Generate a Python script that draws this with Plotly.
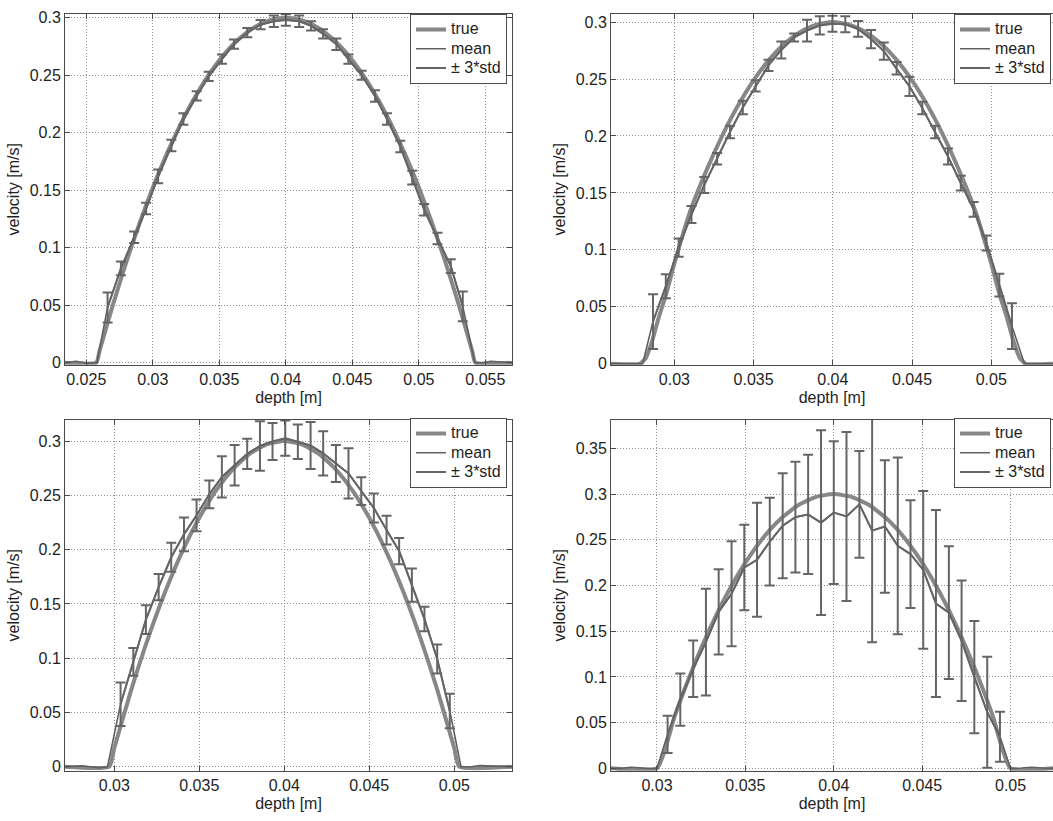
import plotly.graph_objects as go
from plotly.subplots import make_subplots

# ---- panel 1 (top left) ----
true1_x = [0.0234, 0.02575, 0.026, 0.027, 0.028, 0.029, 0.030, 0.031, 0.032, 0.033, 0.034, 0.035, 0.036,
           0.037, 0.038, 0.039, 0.040, 0.041, 0.042, 0.043, 0.044, 0.045, 0.046, 0.047, 0.048, 0.049,
           0.050, 0.051, 0.052, 0.053, 0.054, 0.05425, 0.0570]
true1_y = [0, 0, 0.0104, 0.0503, 0.0873, 0.1212, 0.1523, 0.1803, 0.2054, 0.2276, 0.2468, 0.2631, 0.2764,
           0.2867, 0.2941, 0.2985, 0.3000, 0.2985, 0.2941, 0.2867, 0.2764, 0.2631, 0.2468, 0.2276, 0.2054,
           0.1803, 0.1523, 0.1212, 0.0873, 0.0503, 0.0104, 0, 0]
bar1_x = [0.0266, 0.0276, 0.0286, 0.0295, 0.0304, 0.0314, 0.0323, 0.0333, 0.0342, 0.0352, 0.0361, 0.0371,
          0.0381, 0.0391, 0.0400, 0.0410, 0.0419, 0.0428, 0.0438, 0.0447, 0.0457, 0.0467, 0.0476, 0.0486,
          0.0495, 0.0504, 0.0514, 0.0524, 0.0533]
bar1_mean = [0.048, 0.082, 0.109, 0.134, 0.162, 0.189, 0.212, 0.232, 0.249, 0.264, 0.277, 0.287, 0.294,
             0.297, 0.298, 0.297, 0.293, 0.286, 0.277, 0.264, 0.250, 0.232, 0.212, 0.188, 0.161, 0.133,
             0.108, 0.084, 0.049]
bar1_err = [0.013, 0.006, 0.005, 0.005, 0.006, 0.005, 0.005, 0.004, 0.004, 0.004, 0.004, 0.004, 0.004,
            0.005, 0.005, 0.005, 0.004, 0.004, 0.005, 0.004, 0.004, 0.005, 0.005, 0.005, 0.006, 0.005,
            0.005, 0.006, 0.013]
out1_left_x = [0.0234, 0.0238, 0.0242, 0.0246, 0.0250, 0.0254, 0.0258]
out1_left_y = [0.0, 0.0008, 0.0012, 0.0006, -0.0004, 0.0, 0.0]
out1_right_x = [0.0542, 0.0548, 0.0554, 0.0560, 0.0566, 0.0570]
out1_right_y = [0.0, 0.0, 0.0012, 0.0008, 0.0, 0.0]

# ---- panel 2 (top right) ----
true2_x = [0.0260, 0.0278, 0.0282, 0.0286, 0.0290, 0.0295, 0.030, 0.031, 0.032, 0.033, 0.034, 0.035,
           0.036, 0.037, 0.038, 0.039, 0.040, 0.041, 0.042, 0.043, 0.044, 0.045, 0.046, 0.047, 0.048,
           0.049, 0.050, 0.0505, 0.0510, 0.0514, 0.0518, 0.0522, 0.0539]
true2_y = [0, 0, 0.005, 0.020, 0.040, 0.062, 0.088, 0.134, 0.1689, 0.1996, 0.2262, 0.2488, 0.2672,
           0.2816, 0.2918, 0.2980, 0.3000, 0.2980, 0.2918, 0.2816, 0.2672, 0.2488, 0.2262, 0.1996,
           0.1689, 0.134, 0.088, 0.062, 0.040, 0.020, 0.005, 0, 0]
bar2_x = [0.02865, 0.02946, 0.03027, 0.03108, 0.03189, 0.03270, 0.03351, 0.03432, 0.03513, 0.03594,
          0.03675, 0.03756, 0.03837, 0.03918, 0.03998, 0.04079, 0.04160, 0.04241, 0.04322, 0.04403,
          0.04484, 0.04565, 0.04646, 0.04727, 0.04808, 0.04889, 0.04970, 0.05051, 0.05131]
bar2_mean = [0.037, 0.068, 0.102, 0.131, 0.157, 0.180, 0.2035, 0.225, 0.244, 0.262, 0.2755, 0.2865,
             0.2925, 0.297, 0.2985, 0.298, 0.294, 0.285, 0.2745, 0.2595, 0.2435, 0.2245, 0.2035, 0.182,
             0.1585, 0.1355, 0.106, 0.069, 0.033]
bar2_err = [0.024, 0.0105, 0.008, 0.0075, 0.007, 0.005, 0.0055, 0.006, 0.005, 0.005, 0.0075, 0.0035,
            0.0095, 0.008, 0.007, 0.007, 0.007, 0.008, 0.0075, 0.0055, 0.0085, 0.0055, 0.0055, 0.007,
            0.0065, 0.0065, 0.0065, 0.010, 0.020]
out2_left_x = [0.0260, 0.0268, 0.0276, 0.0280]
out2_left_y = [0.0, 0.0, 0.0, 0.0]
out2_right_x = [0.0521, 0.0528, 0.0539]
out2_right_y = [0.0, 0.0, 0.0]

# ---- panel 3 (bottom left) ----
true3_x = [0.0271, 0.0297, 0.030, 0.031, 0.032, 0.033, 0.034, 0.035, 0.036, 0.037, 0.038, 0.039, 0.040,
           0.041, 0.042, 0.043, 0.044, 0.045, 0.046, 0.047, 0.048, 0.049, 0.050, 0.0503, 0.0534]
true3_y = [0, 0, 0.0172, 0.0710, 0.1190, 0.1614, 0.1982, 0.2293, 0.2548, 0.2745, 0.2887, 0.2972, 0.3000,
           0.2972, 0.2887, 0.2745, 0.2548, 0.2293, 0.1982, 0.1614, 0.1190, 0.0710, 0.0172, 0, 0]
bar3_x = [0.03037, 0.03112, 0.03186, 0.03261, 0.03335, 0.03410, 0.03484, 0.03559, 0.03633, 0.03708,
          0.03782, 0.03857, 0.03931, 0.04006, 0.04080, 0.04155, 0.04229, 0.04304, 0.04378, 0.04453,
          0.04527, 0.04602, 0.04676, 0.04751, 0.04825, 0.04900, 0.04974]
bar3_mean = [0.0576, 0.0966, 0.1355, 0.1655, 0.193, 0.2141, 0.2316, 0.251, 0.267, 0.2778, 0.2883, 0.2955,
             0.2996, 0.3027, 0.2993, 0.296, 0.2887, 0.2794, 0.2703, 0.254, 0.2384, 0.218, 0.1987, 0.1673,
             0.136, 0.0992, 0.0513]
bar3_err = [0.020, 0.0128, 0.0133, 0.0121, 0.0133, 0.0155, 0.0147, 0.0128, 0.019, 0.0186, 0.0139, 0.0227,
            0.0171, 0.0162, 0.0159, 0.0216, 0.0204, 0.0171, 0.0232, 0.0128, 0.0133, 0.0132, 0.0121,
            0.0154, 0.0113, 0.0133, 0.0159]
out3_left_x = [0.0271, 0.0276, 0.0281, 0.0286, 0.0291, 0.0296]
out3_left_y = [0.0, 0.0003, 0.0008, 0.0, -0.0008, 0.0]
out3_right_x = [0.0504, 0.0510, 0.0515, 0.0520, 0.0526, 0.0534]
out3_right_y = [0.0, 0.0, 0.0010, 0.0006, 0.0, 0.0]

# ---- panel 4 (bottom right) ----
true4_x = [0.0274, 0.030, 0.031, 0.032, 0.033, 0.034, 0.035, 0.036, 0.037, 0.038, 0.039, 0.040, 0.041,
           0.042, 0.043, 0.044, 0.045, 0.046, 0.047, 0.048, 0.049, 0.050, 0.0524]
true4_y = [0, 0, 0.057, 0.108, 0.153, 0.192, 0.225, 0.252, 0.273, 0.288, 0.297, 0.300, 0.297, 0.288,
           0.273, 0.252, 0.225, 0.192, 0.153, 0.108, 0.057, 0, 0]
bar4_x = [0.03060, 0.03132, 0.03205, 0.03277, 0.03349, 0.03422, 0.03494, 0.03566, 0.03638, 0.03711,
          0.03783, 0.03855, 0.03928, 0.04000, 0.04072, 0.04145, 0.04217, 0.04289, 0.04362, 0.04434,
          0.04506, 0.04578, 0.04651, 0.04723, 0.04795, 0.04868, 0.04940]
bar4_mean = [0.0372, 0.0752, 0.1088, 0.138, 0.1712, 0.191, 0.2197, 0.2281, 0.248, 0.2653, 0.2748, 0.2777,
             0.2687, 0.2798, 0.2755, 0.2888, 0.260, 0.2645, 0.2434, 0.2344, 0.217, 0.1802, 0.1703, 0.1395,
             0.0998, 0.0614, 0.0345]
bar4_err = [0.0203, 0.0285, 0.0309, 0.0583, 0.0467, 0.0575, 0.0467, 0.0623, 0.0481, 0.0575, 0.0605,
            0.0652, 0.1011, 0.0781, 0.0924, 0.0584, 0.122, 0.0725, 0.0966, 0.0589, 0.0863, 0.1023,
            0.0727, 0.0659, 0.0614, 0.0607, 0.0273]
out4_left_x = [0.0274, 0.0280, 0.0285, 0.0290, 0.0295, 0.0300]
out4_left_y = [0.0, 0.0, 0.0012, 0.0005, 0.0, 0.0]
out4_right_x = [0.0500, 0.0506, 0.0512, 0.0518, 0.0524]
out4_right_y = [0.0, 0.0003, 0.0012, 0.0004, 0.0]

# tick labels
xticks_wide = [0.025, 0.03, 0.035, 0.04, 0.045, 0.05, 0.055]
xticks_wide_text = ["0.025", "0.03", "0.035", "0.04", "0.045", "0.05", "0.055"]
xticks = [0.03, 0.035, 0.04, 0.045, 0.05]
xticks_text = ["0.03", "0.035", "0.04", "0.045", "0.05"]
yticks = [0, 0.05, 0.1, 0.15, 0.2, 0.25, 0.3]
yticks_text = ["0", "0.05", "0.1", "0.15", "0.2", "0.25", "0.3"]
yticks_tall = [0, 0.05, 0.1, 0.15, 0.2, 0.25, 0.3, 0.35]
yticks_tall_text = ["0", "0.05", "0.1", "0.15", "0.2", "0.25", "0.3", "0.35"]

W, H = 1053, 821
FONT = "Liberation Sans, Arial, sans-serif"
TEXT = "#1e1e1e"
TRUE_COLOR = "#878787"
MEAN_COLOR = "#606060"
BAR_COLOR = "#656565"
AXIS_COLOR = "#4a4a4a"
GRID_COLOR = "#8e8e8e"


def label(text):
    # legend rows are spaced by the (small) legend font; the text itself is drawn larger
    return f'<span style="font-size:16px">{text}</span>'


def add_panel(fig, row, col, legend, true_x, true_y, bar_x, bar_mean, bar_err,
              left_x, left_y, right_x, right_y):
    fig.add_trace(go.Scatter(x=true_x, y=true_y, mode="lines", name=label("true"), legend=legend,
                             line=dict(color=TRUE_COLOR, width=4, shape="spline", smoothing=0.5)),
                  row=row, col=col)
    # mean over every depth, including outside the vessel
    fig.add_trace(go.Scatter(x=left_x + bar_x + right_x, y=left_y + bar_mean + right_y,
                             mode="lines", name=label("mean"), legend=legend,
                             line=dict(color=MEAN_COLOR, width=1.6)),
                  row=row, col=col)
    fig.add_trace(go.Scatter(x=bar_x, y=bar_mean, mode="lines", name=label("± 3*std"), legend=legend,
                             line=dict(color=BAR_COLOR, width=2),
                             error_y=dict(type="data", array=bar_err, color=BAR_COLOR,
                                          thickness=2, width=5)),
                  row=row, col=col)


fig = make_subplots(rows=2, cols=2)

add_panel(fig, 1, 1, "legend", true1_x, true1_y, bar1_x, bar1_mean, bar1_err,
          out1_left_x, out1_left_y, out1_right_x, out1_right_y)
add_panel(fig, 1, 2, "legend2", true2_x, true2_y, bar2_x, bar2_mean, bar2_err,
          out2_left_x, out2_left_y, out2_right_x, out2_right_y)
add_panel(fig, 2, 1, "legend3", true3_x, true3_y, bar3_x, bar3_mean, bar3_err,
          out3_left_x, out3_left_y, out3_right_x, out3_right_y)
add_panel(fig, 2, 2, "legend4", true4_x, true4_y, bar4_x, bar4_mean, bar4_err,
          out4_left_x, out4_left_y, out4_right_x, out4_right_y)

# pixel boxes of the four axes: (left, right, top, bottom)
boxes = {(1, 1): (65, 512, 10, 366), (1, 2): (611, 1053, 10, 366),
         (2, 1): (65, 512, 422, 778), (2, 2): (611, 1053, 422, 778)}
xranges = {(1, 1): [0.0234, 0.0570], (1, 2): [0.0260, 0.0539],
           (2, 1): [0.0271, 0.0534], (2, 2): [0.0274, 0.0524]}
yranges = {(1, 1): [-0.0017, 0.3034], (1, 2): [-0.0008, 0.3072],
           (2, 1): [-0.0036, 0.3196], (2, 2): [-0.0025, 0.3812]}

axis_common = dict(showgrid=True, gridcolor=GRID_COLOR, griddash="1px,2px", gridwidth=1,
                   showline=True, linecolor=AXIS_COLOR, linewidth=1, zeroline=False,
                   ticks="inside", ticklen=5, tickcolor=AXIS_COLOR,
                   tickfont=dict(family=FONT, size=16, color=TEXT))

for (r, c), (l, rgt, t, b) in boxes.items():
    xt, xtt = (xticks_wide, xticks_wide_text) if (r, c) == (1, 1) else (xticks, xticks_text)
    yt, ytt = (yticks_tall, yticks_tall_text) if (r, c) == (2, 2) else (yticks, yticks_text)
    fig.update_xaxes(domain=[l / W, rgt / W], range=xranges[(r, c)], tickvals=xt, ticktext=xtt,
                     mirror="ticks",
                     title=dict(text="depth [m]", standoff=4, font=dict(family=FONT, size=16, color=TEXT)),
                     row=r, col=c, **axis_common)
    fig.update_yaxes(domain=[1 - b / H, 1 - t / H], range=yranges[(r, c)], tickvals=yt, ticktext=ytt,
                     mirror="ticks" if c == 1 else False,
                     title=dict(text="velocity [m/s]", standoff=6, font=dict(family=FONT, size=16, color=TEXT)),
                     row=r, col=c, **axis_common)

legend_style = dict(bgcolor="white", bordercolor=AXIS_COLOR, borderwidth=1, tracegroupgap=0,
                    itemwidth=30, font=dict(family=FONT, size=12.5, color=TEXT), yanchor="top")

fig.update_layout(
    width=W, height=H,
    margin=dict(l=0, r=0, t=0, b=0),
    paper_bgcolor="white", plot_bgcolor="white",
    font=dict(family=FONT, size=16, color=TEXT),
    showlegend=True,
    legend=dict(x=507 / W, xanchor="right", y=1 - 10 / H, **legend_style),
    legend2=dict(x=954 / W, xanchor="left", y=1 - 10 / H, **legend_style),
    legend3=dict(x=507 / W, xanchor="right", y=1 - 420 / H, **legend_style),
    legend4=dict(x=954 / W, xanchor="left", y=1 - 420 / H, **legend_style),
)

# drop the page's default body margin so the figure sits at the window's corner
fig.write_html("out.html", config={"displayModeBar": False},
               post_script="document.body.style.margin='0px';document.body.style.overflow='hidden';")
